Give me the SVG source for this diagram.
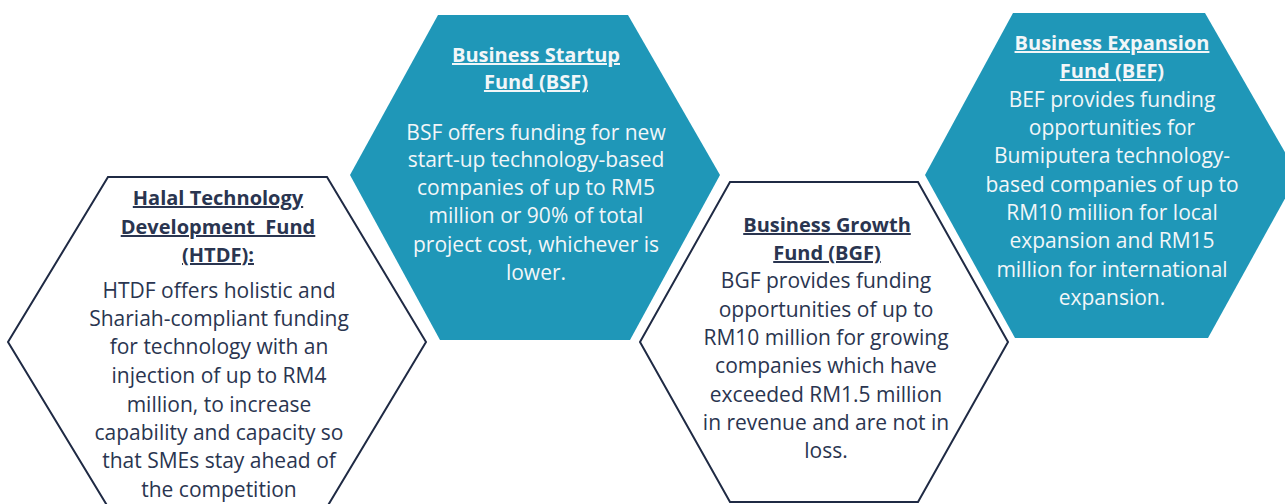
<svg xmlns="http://www.w3.org/2000/svg" width="1285" height="504" viewBox="0 0 1285 504">
<style>
.hexw{fill:#ffffff;stroke:#1f2a44;stroke-width:2}
.hexb{fill:#1f97b8;stroke:none}
text{font-family:"Open Sans",Lato,"DejaVu Sans",sans-serif;font-size:21px;text-anchor:middle}
.dk{fill:#2a3550}
.lt{fill:#f2f6f8}
.h{font-weight:bold;text-decoration:underline;font-size:20px}
</style>
<rect x="0" y="0" width="1285" height="504" fill="#ffffff"/>
<g id="connectors"></g>
<g id="htdf">
<polygon class="hexw" points="108,177 327,177 426,342 327,507 108,507 8,342"/>
<text class="dk h"><tspan x="218" y="205">Halal Technology</tspan><tspan x="218" y="234" style="white-space:pre">Development  Fund</tspan><tspan x="218" y="262">(HTDF):</tspan></text>
<text class="dk"><tspan x="219" y="298">HTDF offers holistic and</tspan><tspan x="219" y="326">Shariah-compliant funding</tspan><tspan x="219" y="354">for technology with an</tspan><tspan x="219" y="383">injection of up to RM4</tspan><tspan x="219" y="412">million, to increase</tspan><tspan x="219" y="440">capability and capacity so</tspan><tspan x="219" y="468">that SMEs stay ahead of</tspan><tspan x="219" y="497">the competition</tspan></text>
</g>
<g id="bsf">
<polygon class="hexb" points="438,15 628,15 720,175 630,340 440,340 350,175"/>
<text class="lt h"><tspan x="536" y="62">Business Startup</tspan><tspan x="536" y="89">Fund (BSF)</tspan></text>
<text class="lt"><tspan x="536" y="140">BSF offers funding for new</tspan><tspan x="536" y="167">start-up technology-based</tspan><tspan x="536" y="195">companies of up to RM5</tspan><tspan x="536" y="223">million or 90% of total</tspan><tspan x="536" y="252">project cost, whichever is</tspan><tspan x="536" y="280">lower.</tspan></text>
</g>
<g id="bgf">
<polygon class="hexw" points="730,182 918,182 1008,342 918,502 730,502 640,342"/>
<text class="dk h"><tspan x="827" y="232">Business Growth</tspan><tspan x="827" y="260">Fund (BGF)</tspan></text>
<text class="dk"><tspan x="826" y="288">BGF provides funding</tspan><tspan x="826" y="317">opportunities of up to</tspan><tspan x="826" y="345">RM10 million for growing</tspan><tspan x="826" y="373">companies which have</tspan><tspan x="826" y="402">exceeded RM1.5 million</tspan><tspan x="826" y="430">in revenue and are not in</tspan><tspan x="826" y="458">loss.</tspan></text>
</g>
<g id="bef">
<polygon class="hexb" points="1013,13 1205,13 1298,175 1208,338 1015,338 925,175"/>
<text class="lt h"><tspan x="1112" y="50">Business Expansion</tspan><tspan x="1112" y="78">Fund (BEF)</tspan></text>
<text class="lt"><tspan x="1112" y="107">BEF provides funding</tspan><tspan x="1112" y="135">opportunities for</tspan><tspan x="1112" y="163">Bumiputera technology-</tspan><tspan x="1112" y="192">based companies of up to</tspan><tspan x="1112" y="220">RM10 million for local</tspan><tspan x="1112" y="248">expansion and RM15</tspan><tspan x="1112" y="277">million for international</tspan><tspan x="1112" y="305">expansion.</tspan></text>
</g>
</svg>
